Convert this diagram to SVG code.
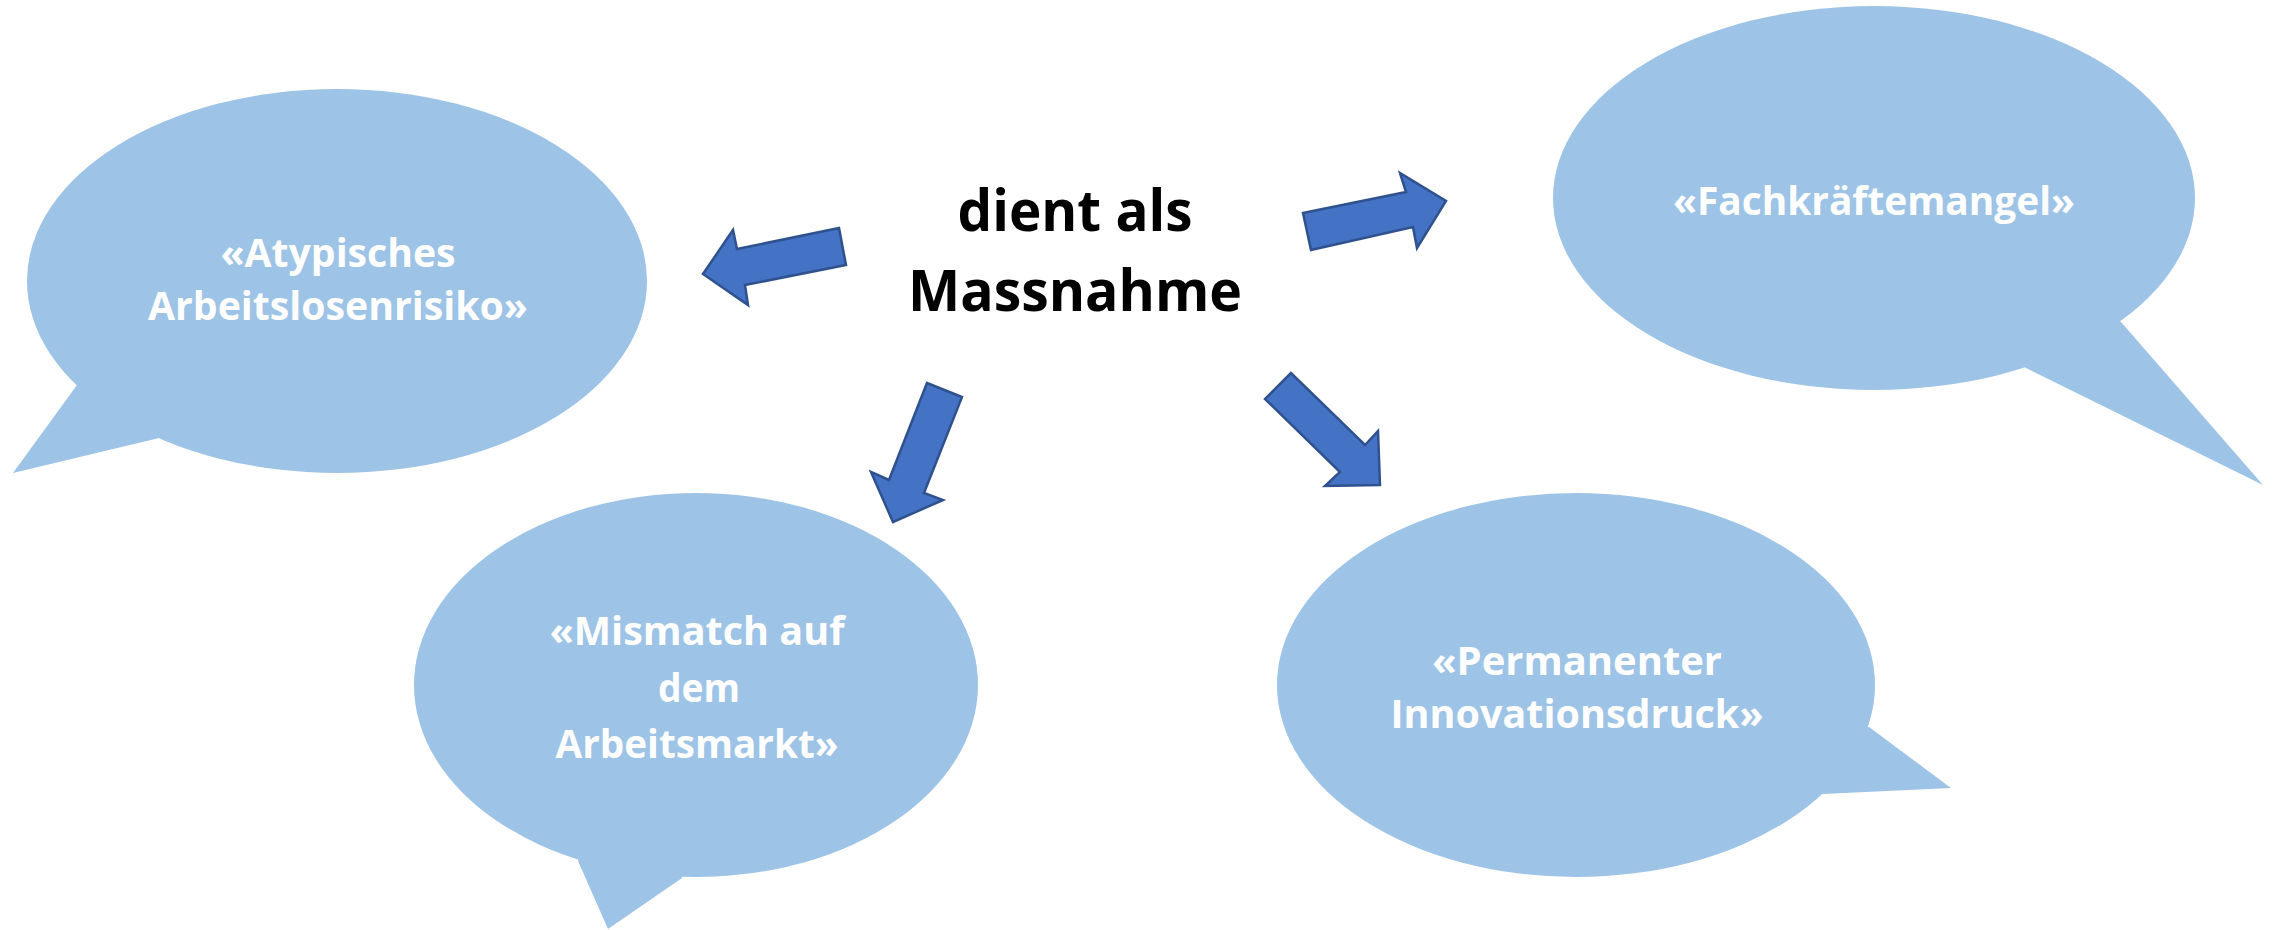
<svg xmlns="http://www.w3.org/2000/svg" width="2275" height="930" viewBox="0 0 2275 930">
<style>
.bubble{fill:#9DC3E6;stroke:none}
.arrow{fill:#4472C4;stroke:#2F528F;stroke-width:2.5;stroke-linejoin:miter}
.lbl{font-family:"Open Sans","Liberation Sans",sans-serif;font-weight:bold;font-size:39px;fill:#FFFFFF;text-anchor:middle}
.center{font-family:"Open Sans","Liberation Sans",sans-serif;font-weight:bold;font-size:58px;fill:#000000;text-anchor:middle}
</style>
<rect width="2275" height="930" fill="#FFFFFF"/>
<g id="node-atypisch">
<ellipse class="bubble" cx="337" cy="281" rx="310" ry="192"/>
<polygon class="bubble" points="150,350 77,385 13,473 159,438 220,400"/>
<text class="lbl" x="338" y="267" textLength="235" lengthAdjust="spacingAndGlyphs">«Atypisches</text>
<text class="lbl" x="338" y="320" textLength="380" lengthAdjust="spacingAndGlyphs">Arbeitslosenrisiko»</text>
</g>
<g id="node-fachkraefte">
<ellipse class="bubble" cx="1874" cy="198" rx="321" ry="192"/>
<polygon class="bubble" points="2050,250 2121,322 2263,485 2026,368 1950,300"/>
<text class="lbl" x="1874" y="215" textLength="402" lengthAdjust="spacingAndGlyphs">«Fachkräftemangel»</text>
</g>
<g id="node-mismatch">
<ellipse class="bubble" cx="696" cy="685" rx="282" ry="192"/>
<polygon class="bubble" points="600,800 578,861 608,929 682,878 690,820"/>
<text class="lbl" x="697" y="645" textLength="295" lengthAdjust="spacingAndGlyphs">«Mismatch auf</text>
<text class="lbl" x="699" y="702" textLength="82" lengthAdjust="spacingAndGlyphs">dem</text>
<text class="lbl" x="697" y="758" textLength="283" lengthAdjust="spacingAndGlyphs">Arbeitsmarkt»</text>
</g>
<g id="node-innovation">
<ellipse class="bubble" cx="1576" cy="685" rx="299" ry="192"/>
<polygon class="bubble" points="1800,720 1869,727 1951,788 1823,794 1780,760"/>
<text class="lbl" x="1577" y="675" textLength="290" lengthAdjust="spacingAndGlyphs">«Permanenter</text>
<text class="lbl" x="1577" y="728" textLength="373" lengthAdjust="spacingAndGlyphs">Innovationsdruck»</text>
</g>
<g id="node-center">
<text class="center" x="1075" y="231" textLength="235" lengthAdjust="spacingAndGlyphs">dient als</text>
<text class="center" x="1075" y="311" textLength="334" lengthAdjust="spacingAndGlyphs">Massnahme</text>
</g>
<g id="connectors">
<polygon class="arrow" points="839,228 846,265 745,285 748,305 703,274 733,230 737,249"/>
<polygon class="arrow" points="1311,250 1303,213 1406,192 1400,173 1446,201 1417,248 1413,227"/>
<polygon class="arrow" points="927,383 962,397 924,493 943,500 893,522 871,472 889,480"/>
<polygon class="arrow" points="1291,373 1265,399 1340,472 1325,486 1380,485 1378,431 1365,445"/>
</g>
</svg>
